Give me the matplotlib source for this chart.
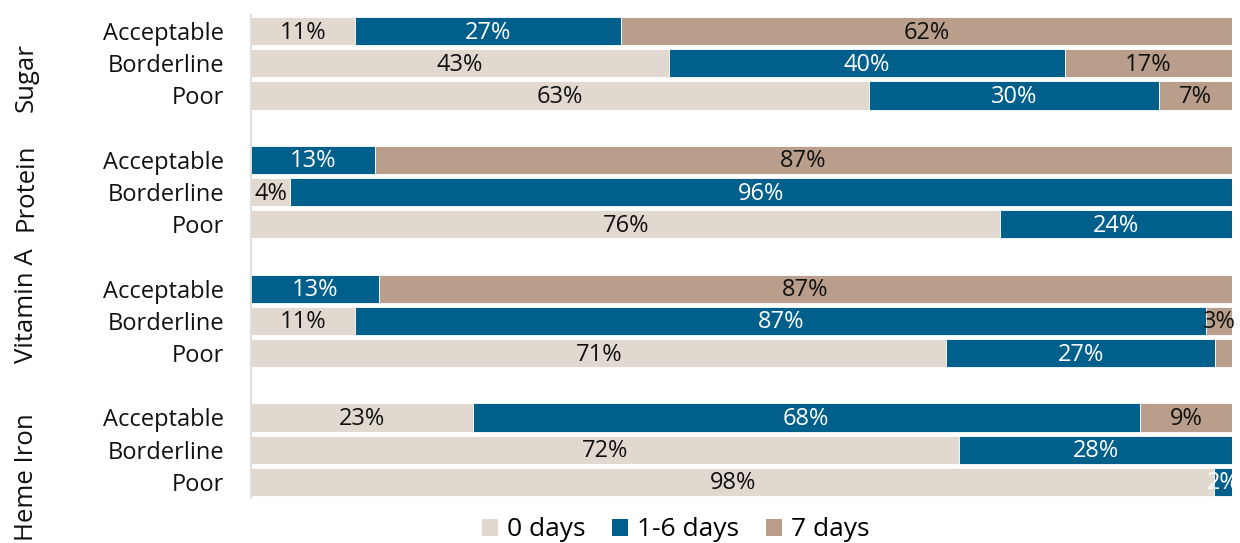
import matplotlib.pyplot as plt
from matplotlib.patches import Patch
import numpy as np

plt.rcParams['font.family'] = ['Open Sans', 'DejaVu Sans']

groups = ['Sugar', 'Protein', 'Vitamin A', 'Heme Iron']
levels = ['Acceptable', 'Borderline', 'Poor']
series = ['0 days', '1-6 days', '7 days']

# share of respondents (%) per group, in order Acceptable / Borderline / Poor
zero_days = [10.6, 42.6, 63.0,
             0.0, 4.0, 76.4,
             0.0, 10.6, 70.9,
             22.6, 72.2, 98.2]
one_six_days = [27.1, 40.4, 29.6,
                12.6, 96.0, 23.6,
                13.0, 86.8, 27.4,
                68.0, 27.8, 1.8]
seven_days = [62.3, 17.0, 7.4,
              87.4, 0.0, 0.0,
              87.0, 2.6, 1.7,
              9.4, 0.0, 0.0]

colors = ['#E1D9D0', '#015F8C', '#B89E8B']
text_colors = ['#111111', 'white', '#111111']

# three bars per group, one empty slot between groups
ypos = []
for g in range(len(groups)):
    for k in range(len(levels)):
        ypos.append(g * 4 + k)
ypos = np.array(ypos)

fig = plt.figure(figsize=(12.4, 5.43), dpi=100)
ax = fig.add_axes([0.2024, 0.0829, 0.7911, 0.8895])

left = np.zeros(len(ypos))
for vals, col, tcol, name in zip([zero_days, one_six_days, seven_days], colors, text_colors, series):
    vals = np.array(vals)
    ax.barh(ypos, vals, left=left, height=0.88, color=col, edgecolor='white', linewidth=0.6, label=name)
    for y, l, v in zip(ypos, left, vals):
        if v >= 1.8:
            ax.text(l + v / 2, y + 0.05, '%.0f%%' % v, ha='center', va='center', fontsize=17, color=tcol)
    left += vals

ax.set_xlim(0, 100)
ax.set_ylim(ypos.max() + 0.5, -0.5)
ax.set_yticks(ypos)
ax.set_yticklabels(levels * len(groups), fontsize=17, color='#111111')
ax.tick_params(axis='y', length=0, pad=19.5)
ax.set_xticks([])
for s in ['top', 'right', 'bottom']:
    ax.spines[s].set_visible(False)
ax.spines['left'].set_color('#D9D9D9')
ax.spines['left'].set_linewidth(1.2)

# group names, rotated, left of the level labels
group_y = [1.43, 4.84, 8.54, 13.85]
for name, gy in zip(groups, group_y):
    ax.text(-0.229, gy, name, transform=ax.get_yaxis_transform(), rotation=90,
            ha='center', va='center', fontsize=18.5, color='#111111')

handles = [Patch(facecolor=c, edgecolor='none') for c in colors]
fig.legend(handles, series, loc='center', bbox_to_anchor=(0.545, 0.024), ncol=3, frameon=False,
           fontsize=19, handlelength=0.6, handleheight=0.6, handletextpad=0.35, columnspacing=1.0)

fig.savefig('out.png', dpi=100)
